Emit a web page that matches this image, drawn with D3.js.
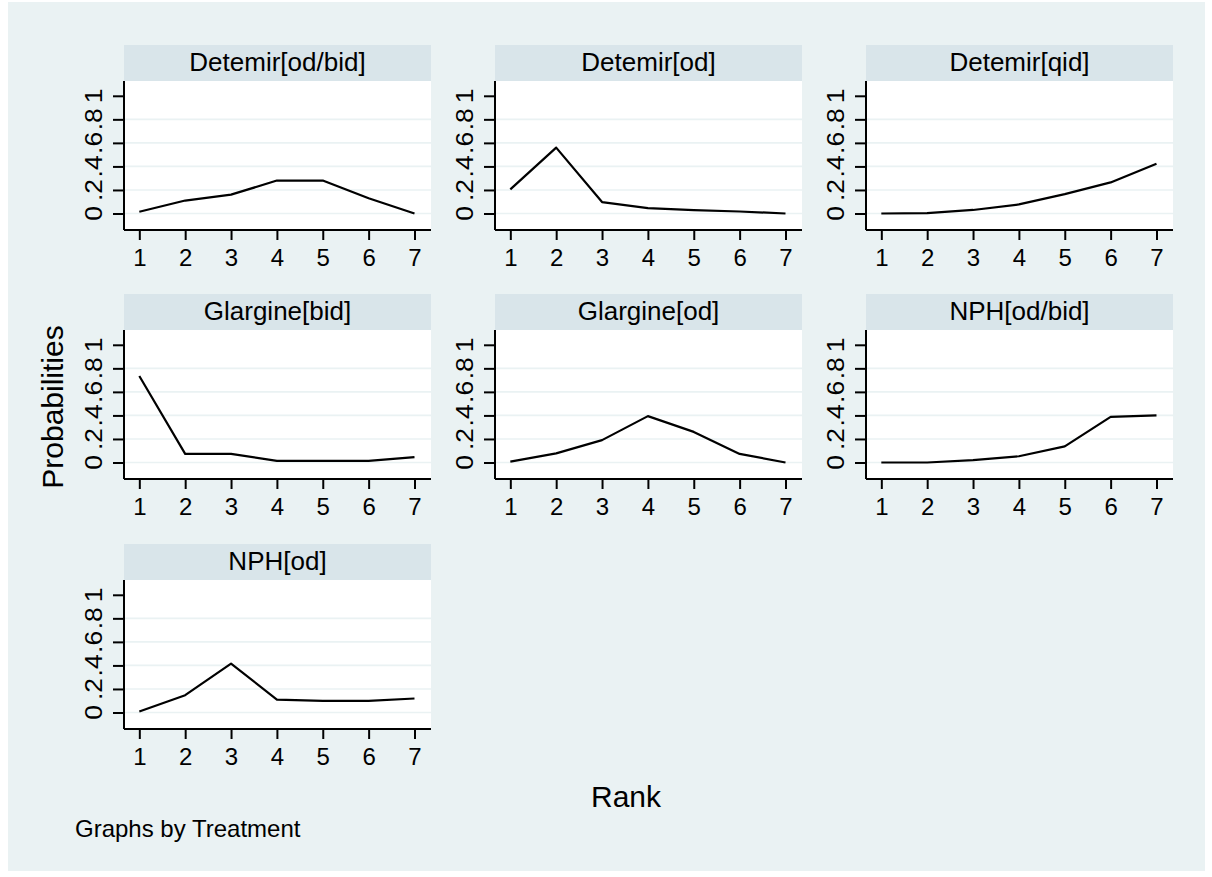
<!DOCTYPE html>
<html>

<head>
    <meta charset="utf-8">
    <style>
        body {
            margin: 0;
            background: white;
        }

        svg {
            display: block;
            font-family: Arial, 'Liberation Sans', sans-serif;
        }
    </style>
</head>

<body>
    <svg width="1212" height="877"></svg>
</body>

<script src="https://d3js.org/d3.v7.min.js"></script>

<script>
    // rank probabilities
    let treatments = ["Detemir[od/bid]", "Detemir[od]", "Detemir[qid]",
        "Glargine[bid]", "Glargine[od]", "NPH[od/bid]", "NPH[od]"]

    let ranks = [1, 2, 3, 4, 5, 6, 7]

    let detemirOdBid = [0.015, 0.11, 0.16, 0.28, 0.28, 0.13, 0.0]
    let detemirOd = [0.205, 0.56, 0.097, 0.045, 0.028, 0.017, 0.0]
    let detemirQid = [0.0, 0.003, 0.03, 0.077, 0.165, 0.264, 0.423]
    let glargineBid = [0.735, 0.073, 0.073, 0.014, 0.014, 0.014, 0.045]
    let glargineOd = [0.008, 0.078, 0.19, 0.394, 0.26, 0.073, 0.0]
    let nphOdBid = [0.0, 0.0, 0.02, 0.053, 0.137, 0.388, 0.4]
    let nphOd = [0.008, 0.147, 0.416, 0.11, 0.099, 0.099, 0.119]

    let series = [detemirOdBid, detemirOd, detemirQid, glargineBid, glargineOd, nphOdBid, nphOd]

    let yTicks = [0, 0.2, 0.4, 0.6, 0.8, 1]
    let yTickLabels = ["0", ".2", ".4", ".6", ".8", "1"]

    let svg = d3.select("svg")

    // stata-ish colours
    let bg = "#eaf2f3"
    let strip = "#d9e5ea"

    svg.append("rect")
        .attr("x", 8)
        .attr("y", 2)
        .attr("width", 1197)
        .attr("height", 869)
        .style("fill", bg)

    let colLeft = [124, 495, 866]
    let rowTop = [45, 294, 544]
    let panelW = 307
    let stripH = 36
    let plotBottom = 185   // from the strip top

    treatments.forEach((name, i) => {
        let left = colLeft[i % 3]
        let top = rowTop[Math.floor(i / 3)]

        let x = d3.scaleLinear()
            .domain([0.666, 7.36])
            .range([left, left + panelW])

        let y = d3.scaleLinear()
            .domain([0, 1])
            .range([top + 168.5, top + 50.8])

        let g = svg.append("g")

        // title strip
        g.append("rect")
            .attr("x", left)
            .attr("y", top)
            .attr("width", panelW)
            .attr("height", stripH)
            .style("fill", strip)

        g.append("text")
            .attr("x", left + panelW / 2)
            .attr("y", top + 26)
            .attr("text-anchor", "middle")
            .style("font-size", "26px")
            .style("fill", "#000")
            .text(name)

        // plot region
        g.append("rect")
            .attr("x", left)
            .attr("y", top + stripH)
            .attr("width", panelW)
            .attr("height", plotBottom - stripH)
            .style("fill", "white")

        // gridlines (none at 1)
        g.selectAll(".grid")
            .data(yTicks.filter(d => d < 1))
            .join("line")
            .attr("x1", left)
            .attr("x2", left + panelW)
            .attr("y1", d => y(d))
            .attr("y2", d => y(d))
            .style("stroke", bg)
            .style("stroke-width", 1.6)

        // y axis
        let yAxis = d3.axisLeft(y)
            .tickValues(yTicks)
            .tickSize(11)
            .tickFormat("")

        let ya = g.append("g")
            .attr("transform", "translate(" + left + ",0)")
            .call(yAxis)
        ya.select(".domain")
            .attr("d", "M0," + (top + stripH) + "V" + (top + plotBottom))
        ya.selectAll("line, path").style("stroke", "#000").style("stroke-width", 2)

        g.selectAll(".ylab")
            .data(yTicks)
            .join("text")
            .attr("transform", d => "translate(" + (left - 22) + "," + y(d) + ") rotate(-90) scale(1.15,1)")
            .attr("text-anchor", "middle")
            .style("font-size", "23px")
            .style("fill", "#000")
            .text((d, j) => yTickLabels[j])

        // x axis
        let xAxis = d3.axisBottom(x)
            .tickValues(ranks)
            .tickSize(10)
            .tickPadding(9)
            .tickFormat(d3.format("d"))

        let xa = g.append("g")
            .attr("transform", "translate(0," + (top + plotBottom) + ")")
            .call(xAxis)
        xa.select(".domain")
            .attr("d", "M" + left + ",0H" + (left + panelW))
        xa.selectAll("line, path").style("stroke", "#000").style("stroke-width", 2)
        xa.selectAll("text")
            .style("font-size", "24px")
            .style("font-family", "Arial, 'Liberation Sans', sans-serif")
            .style("fill", "#000")

        // the line
        let line = d3.line()
            .x((d, j) => x(ranks[j]))
            .y(d => y(d))

        g.append("path")
            .datum(series[i])
            .attr("d", line)
            .style("fill", "none")
            .style("stroke", "#000")
            .style("stroke-width", 2.2)
            .style("stroke-linejoin", "round")
    })

    // axis titles
    svg.append("text")
        .attr("transform", "translate(63,407) rotate(-90)")
        .attr("text-anchor", "middle")
        .style("font-size", "30px")
        .style("fill", "#000")
        .text("Probabilities")

    svg.append("text")
        .attr("x", 626)
        .attr("y", 807)
        .attr("text-anchor", "middle")
        .style("font-size", "30px")
        .style("fill", "#000")
        .text("Rank")

    svg.append("text")
        .attr("x", 75)
        .attr("y", 837)
        .style("font-size", "24px")
        .style("fill", "#000")
        .text("Graphs by Treatment")

</script>

</html>
